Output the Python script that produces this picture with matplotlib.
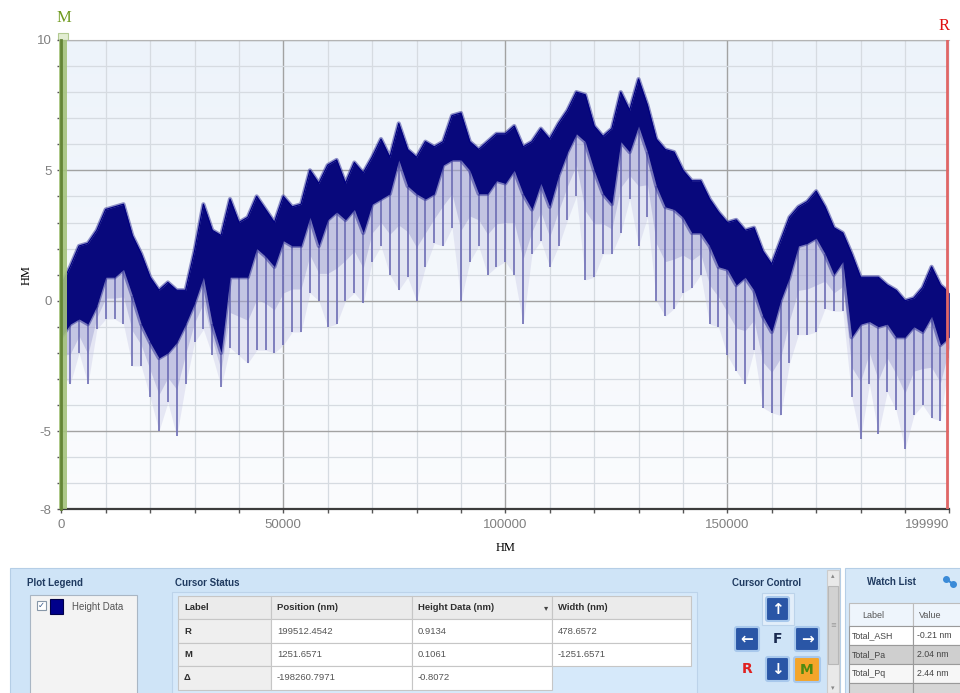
import numpy as np
import matplotlib
matplotlib.use("Agg")
import matplotlib.pyplot as plt
from matplotlib.patches import Rectangle, FancyBboxPatch
from matplotlib.colors import LinearSegmentedColormap

# ---------------- data ----------------
# sample positions in thousands of nm
X_KNM = [0, 2, 4, 6, 8, 10, 12, 14, 16, 18, 20, 22, 24, 26, 28, 30, 32, 34, 36, 38,
         40, 42, 44, 46, 48, 50, 52, 54, 56, 58, 60, 62, 64, 66, 68, 70, 72, 74, 76, 78,
         80, 82, 84, 86, 88, 90, 92, 94, 96, 98, 100, 102, 104, 106, 108, 110, 112, 114,
         116, 118, 120, 122, 124, 126, 128, 130, 132, 134, 136, 138, 140, 142, 144, 146,
         148, 150, 152, 154, 156, 158, 160, 162, 164, 166, 168, 170, 172, 174, 176, 178,
         180, 182, 184, 186, 188, 190, 192, 194, 196, 198, 199.99]
# upper edge of the dense trace
TOP = [0.6, 1.3, 2.1, 2.2, 2.7, 3.5, 3.6, 3.7, 2.5, 1.8, 0.9, 0.4, 0.7, 0.4, 0.4, 1.9, 3.7, 2.7, 2.5, 3.9,
       3.0, 3.2, 4.0, 3.5, 3.0, 4.0, 3.6, 3.7, 5.0, 4.5, 5.2, 5.4, 4.5, 5.3, 4.9, 5.5, 6.2, 5.5, 6.8, 5.8,
       5.5, 6.1, 5.9, 6.1, 7.1, 7.2, 6.1, 5.8, 6.1, 6.4, 6.4, 6.7, 5.9, 6.1, 6.6, 6.2, 6.8, 7.3,
       8.0, 7.9, 6.7, 6.3, 6.6, 8.0, 7.3, 8.5, 7.5, 6.2, 5.8, 5.7, 5.0, 4.6, 4.6, 3.9,
       3.4, 3.0, 3.1, 2.7, 2.8, 1.9, 1.4, 2.3, 3.2, 3.6, 3.8, 4.2, 3.6, 2.8, 2.6, 1.8,
       0.9, 0.9, 0.9, 0.6, 0.4, 0.0, 0.1, 0.5, 1.3, 0.6, 0.3]
# lower edge of the dense (dark) band
BAND_LO = [-1.4, -0.9, -0.7, -0.9, -0.2, 0.9, 0.9, 1.2, 0.2, -0.9, -1.6, -2.2, -2.0, -1.6, -0.9, -0.1, 0.9, -0.9, -2.0, 0.9,
           0.9, 0.9, 2.0, 1.7, 1.3, 2.3, 2.1, 2.1, 3.2, 2.1, 3.1, 3.4, 3.1, 3.5, 2.6, 3.7, 3.9, 4.1, 5.4, 4.4,
           4.1, 3.9, 4.1, 5.2, 5.4, 5.4, 5.0, 4.1, 4.1, 4.6, 4.5, 5.0, 4.1, 3.5, 4.5, 3.6, 4.8, 5.7,
           6.4, 6.1, 5.0, 4.1, 3.7, 6.1, 5.7, 6.7, 5.7, 4.4, 3.6, 3.5, 3.2, 2.6, 2.6, 2.1,
           1.3, 1.2, 0.6, 0.9, 0.4, -0.6, -1.2, 0.0, 0.9, 2.1, 2.2, 2.4, 1.8, 1.0, 1.5, -1.4,
           -0.9, -0.8, -1.0, -0.9, -1.4, -1.4, -1.0, -1.2, -0.6, -1.7, -1.4]
# tips of the thin downward spikes
SPIKE = [-2.8, -3.2, -2.0, -3.2, -1.1, -0.7, -0.7, -0.9, -2.5, -2.5, -3.7, -5.0, -3.9, -5.2, -3.2, -1.6, -1.1, -2.1, -3.3, -1.8,
         -2.1, -2.4, -1.9, -1.9, -2.0, -1.7, -1.2, -1.2, 0.3, 0.0, -1.0, -0.9, 0.0, 0.3, -0.1, 1.5, 2.1, 1.0, 0.4, 0.9,
         0.0, 1.3, 2.2, 2.1, 2.8, 0.0, 1.5, 2.1, 1.0, 1.3, 1.5, 1.0, -0.9, 1.8, 2.3, 1.3, 2.1, 3.1,
         4.0, 0.8, 0.9, 1.8, 1.8, 2.6, 3.9, 2.1, 3.2, 0.0, -0.6, -0.3, 0.3, 0.5, 1.0, -0.9,
         -1.0, -2.1, -2.7, -3.2, -1.9, -4.1, -4.3, -4.4, -2.4, -1.3, -1.3, -1.2, -0.3, -0.4, -0.4, -3.7,
         -5.3, -3.2, -5.1, -3.5, -4.2, -5.7, -4.4, -4.0, -4.5, -4.6, -2.2]

X_MIN, X_MAX = 0, 199990
Y_MIN, Y_MAX = -8, 10
X_TICKS = [0, 50000, 100000, 150000, 199990]
X_TICK_LABELS = ["0", "50000", "100000", "150000", "199990"]
Y_TICKS = [-8, -5, 0, 5, 10]
Y_TICK_LABELS = ["-8", "-5", "0", "5", "10"]

R_POS, M_POS = 199512.4542, 1251.6571

TABLE_HEAD = ["Label", "Position (nm)", "Height Data (nm)", "Width (nm)"]
TABLE_ROWS = [["R", "199512.4542", "0.9134", "478.6572"],
              ["M", "1251.6571", "0.1061", "-1251.6571"],
              ["\u0394", "-198260.7971", "-0.8072", None]]
WATCH_ROWS = [["Total_ASH", "-0.21 nm"], ["Total_Pa", "2.04 nm"], ["Total_Pq", "2.44 nm"]]

UI = ["Liberation Sans", "DejaVu Sans"]
SERIF = ["Liberation Serif", "DejaVu Serif"]

# ---------------- figure ----------------
fig = plt.figure(figsize=(9.6, 6.93), dpi=100)
fig.patch.set_facecolor("white")

ov = fig.add_axes([0, 0, 1, 1], zorder=0)
ov.set_xlim(0, 960)
ov.set_ylim(693, 0)
ov.axis("off")


def rect(x0, y0, x1, y1, fc, ec="none", lw=0.8, z=1):
    ov.add_patch(Rectangle((x0, y0), x1 - x0, y1 - y0, facecolor=fc,
                           edgecolor=ec, linewidth=lw, zorder=z))


def txt(x, y, s, size=7, color="#333333", weight="normal", ha="left",
        va="center", family=UI, z=5, rot=0):
    ov.text(x, y, s, fontsize=size, color=color, fontweight=weight, ha=ha,
            va=va, family=family, zorder=z, rotation=rot)


# ---------------- main plot ----------------
ax = fig.add_axes([61.3 / 960, (693 - 509.3) / 693, 888 / 960, 469.3 / 693], zorder=2)

grad = np.linspace(0, 1, 256).reshape(-1, 1)
bg = LinearSegmentedColormap.from_list("bg", ["#edf3fa", "#fbfcfe"])
ax.imshow(grad, extent=[X_MIN, X_MAX, Y_MIN, Y_MAX], origin="upper",
          aspect="auto", cmap=bg, zorder=0)

x = np.array(X_KNM) * 1000.0
top = np.array(TOP)
lo = np.array(BAND_LO)
sp = np.array(SPIKE)
mid = (lo + sp) / 2.0
# faint haze where the thin spikes crowd together
ax.fill_between(x, sp, lo, color="#c4c4e4", alpha=0.35, lw=0, zorder=2)
ax.fill_between(x, mid, lo, color="#8a8ac6", alpha=0.35, lw=0, zorder=2)
ax.vlines(x, sp, lo, color="#6c6cb4", lw=1.4, alpha=0.85, zorder=3)
# fuzzy rim of the dense band
ax.plot(x, top, color="#3a3a9c", lw=3.0, alpha=0.55, zorder=3)
ax.plot(x, lo, color="#3a3a9c", lw=3.0, alpha=0.55, zorder=3)
ax.fill_between(x, lo, top, color="#08087c", lw=0, zorder=4)
ax.plot(x, top, color="#000080", lw=0.9, zorder=5)

# cursors
ax.axvspan(-500, M_POS, color="#a5c37c", alpha=0.9, lw=0, zorder=6, clip_on=False)
ax.axvline(-150, color="#648536", lw=2.0, zorder=7, clip_on=False)
ax.axvline(R_POS, color="#e06666", lw=2.0, zorder=7)

ax.set_xlim(X_MIN, X_MAX)
ax.set_ylim(Y_MIN, Y_MAX)
ax.set_xticks(X_TICKS)
ax.set_xticklabels(X_TICK_LABELS)
ax.set_yticks(Y_TICKS)
ax.set_yticklabels(Y_TICK_LABELS)
ax.set_xticks(np.arange(X_MIN, X_MAX, 10000), minor=True)
ax.set_yticks(np.arange(Y_MIN, Y_MAX + 1, 1), minor=True)
ax.set_axisbelow(True)
ax.grid(which="minor", color="#d6dbe1", lw=0.9)
ax.grid(which="major", color="#a2a2a2", lw=1.0)
ax.tick_params(which="both", direction="out", length=3, width=1, color="#555555")
ax.tick_params(which="major", labelsize=9.5, labelcolor="#808080", pad=4)
for lab in ax.get_xticklabels() + ax.get_yticklabels():
    lab.set_family(UI)
# keep the last x label inside the picture
ax.get_xticklabels()[-1].set_horizontalalignment("right")
ax.spines["right"].set_visible(False)
ax.spines["top"].set_color("#b4b4b4")
ax.spines["left"].set_color("#606060")
ax.spines["bottom"].set_color("#3c3c3c")
ax.spines["bottom"].set_linewidth(1.6)

# cursor labels and axis titles
rect(58, 33, 68, 40, "#e2edd2", ec="#b3ca92", lw=0.8, z=3)
txt(64, 18, "M", 12, "#6f9a1e", family=SERIF, ha="center")
txt(944, 26, "R", 12, "#e01010", family=SERIF, ha="center")
txt(506, 548, "HM", 9, "black", family=SERIF, ha="center")
txt(27, 275, "HM", 9, "black", family=SERIF, ha="center", rot=90)

# ---------------- bottom panel ----------------
rect(10, 568, 840, 695, "#cfe4f7", ec="#b5cee6")
rect(845, 568, 962, 695, "#d6e8f8", ec="#b5cee6")

# Plot Legend
txt(27, 583, "Plot Legend", 7, "#1f3a60", "bold")
rect(30, 595, 137, 696, "#f3f3f3", ec="#a9b6c4", z=2)
rect(37, 601, 46, 610, "white", ec="#8797a8", z=3)
txt(41.5, 605.5, "\u2713", 6, "#3a5a8a", "bold", ha="center", family=["DejaVu Sans"])
rect(50, 599, 63, 614, "#00008b", ec="#00004a", z=3)
txt(72, 607, "Height Data", 7, "#555555")

# Cursor Status
txt(175, 583, "Cursor Status", 7, "#1f3a60", "bold")
rect(172, 592, 697, 696, "#d6e9fa", ec="#bcd3ea", z=1)
col_x = [178, 271, 412, 552, 691]
row_y = [596, 619, 643, 666, 690]
for i, head in enumerate(TABLE_HEAD):
    rect(col_x[i], row_y[0], col_x[i + 1], row_y[1], "#ebebeb", ec="#c6c6c6", z=2)
    txt(col_x[i] + 6, (row_y[0] + row_y[1]) / 2, head, 6.8, "#2e2e2e", "bold", z=4)
txt(546, 607.5, "\u25be", 6, "#444444", ha="center", family=["DejaVu Sans"])
for r, row in enumerate(TABLE_ROWS):
    y0, y1 = row_y[r + 1], row_y[r + 2]
    for c, val in enumerate(row):
        if val is None:
            continue
        fc = "#efefef" if c == 0 else "white"
        rect(col_x[c], y0, col_x[c + 1], y1, fc, ec="#c6c6c6", z=2)
        txt(col_x[c] + 6, (y0 + y1) / 2, val, 6.8,
            "#2e2e2e" if c == 0 else "#555555", "bold" if c == 0 else "normal", z=4)

# Cursor Control
txt(767, 583, "Cursor Control", 7, "#1f3a60", "bold", ha="center")
rect(762, 593, 794, 625, "#e2eefa", ec="#bcd3ea", z=2)


def button(x0, y0, x1, y1, fc, label, lcolor, size=11):
    ov.add_patch(FancyBboxPatch((x0, y0), x1 - x0, y1 - y0,
                                boxstyle="round,pad=0,rounding_size=2",
                                facecolor=fc, edgecolor="#a8c8ec", linewidth=1.5, zorder=3))
    txt((x0 + x1) / 2, (y0 + y1) / 2, label, size, lcolor, "bold", ha="center",
        family=["DejaVu Sans"], z=5)


button(766, 597, 789, 621, "#2a56a6", "\u2191", "white")
button(735, 627, 759, 651, "#2a56a6", "\u2190", "white")
button(795, 627, 819, 651, "#2a56a6", "\u2192", "white")
button(766, 657, 789, 681, "#2a56a6", "\u2193", "white")
button(794, 657, 820, 682, "#f4a52a", "M", "#4f8a10", 10)
txt(778, 639, "F", 10, "#1a2a50", "bold", ha="center", family=["DejaVu Sans"])
txt(747, 669, "R", 10, "#e02020", "bold", ha="center", family=["DejaVu Sans"])

# scrollbar
rect(827, 570, 839, 693, "#e9e9e9", ec="#cccccc", z=2)
rect(828, 586, 838, 664, "#d2d2d2", ec="#b8b8b8", z=3)
txt(833, 576, "\u25b4", 5, "#888888", ha="center", family=["DejaVu Sans"])
txt(833, 688, "\u25be", 5, "#888888", ha="center", family=["DejaVu Sans"])
txt(833, 625, "\u2261", 5, "#999999", ha="center", family=["DejaVu Sans"])

# Watch List
txt(867, 582, "Watch List", 7, "#1f3a60", "bold")
ov.plot([946, 953], [579, 584], "o", color="#3b8bd8", ms=4, zorder=5)
ov.plot([946, 953], [579, 584], "-", color="#3b8bd8", lw=1.5, zorder=5)
wcol = [849, 913, 962]
wrow = [603, 626, 645, 664, 683, 695]
rect(wcol[0], wrow[0], wcol[1], wrow[1], "#eef5fc", ec="#bdbdbd", z=2)
rect(wcol[1], wrow[0], wcol[2], wrow[1], "#eef5fc", ec="#bdbdbd", z=2)
txt(862, 615, "Label", 6.5, "#555555")
txt(919, 615, "Value", 6.5, "#555555")
row_fc = ["white", "#cfcfcf", "#f7f7f7"]
for r, (lab, val) in enumerate(WATCH_ROWS):
    y0, y1 = wrow[r + 1], wrow[r + 2]
    rect(wcol[0], y0, wcol[1], y1, row_fc[r], ec="#9a9a9a", z=2)
    rect(wcol[1], y0, wcol[2], y1, row_fc[r], ec="#9a9a9a", z=2)
    txt(852, (y0 + y1) / 2, lab, 6.3, "#444444")
    txt(917, (y0 + y1) / 2, val, 6.3, "#444444")
rect(wcol[0], wrow[4], wcol[1], wrow[5], "#d6d6d6", ec="#9a9a9a", z=2)
rect(wcol[1], wrow[4], wcol[2], wrow[5], "#d6d6d6", ec="#9a9a9a", z=2)

fig.savefig("out.png", dpi=100, facecolor="white")
